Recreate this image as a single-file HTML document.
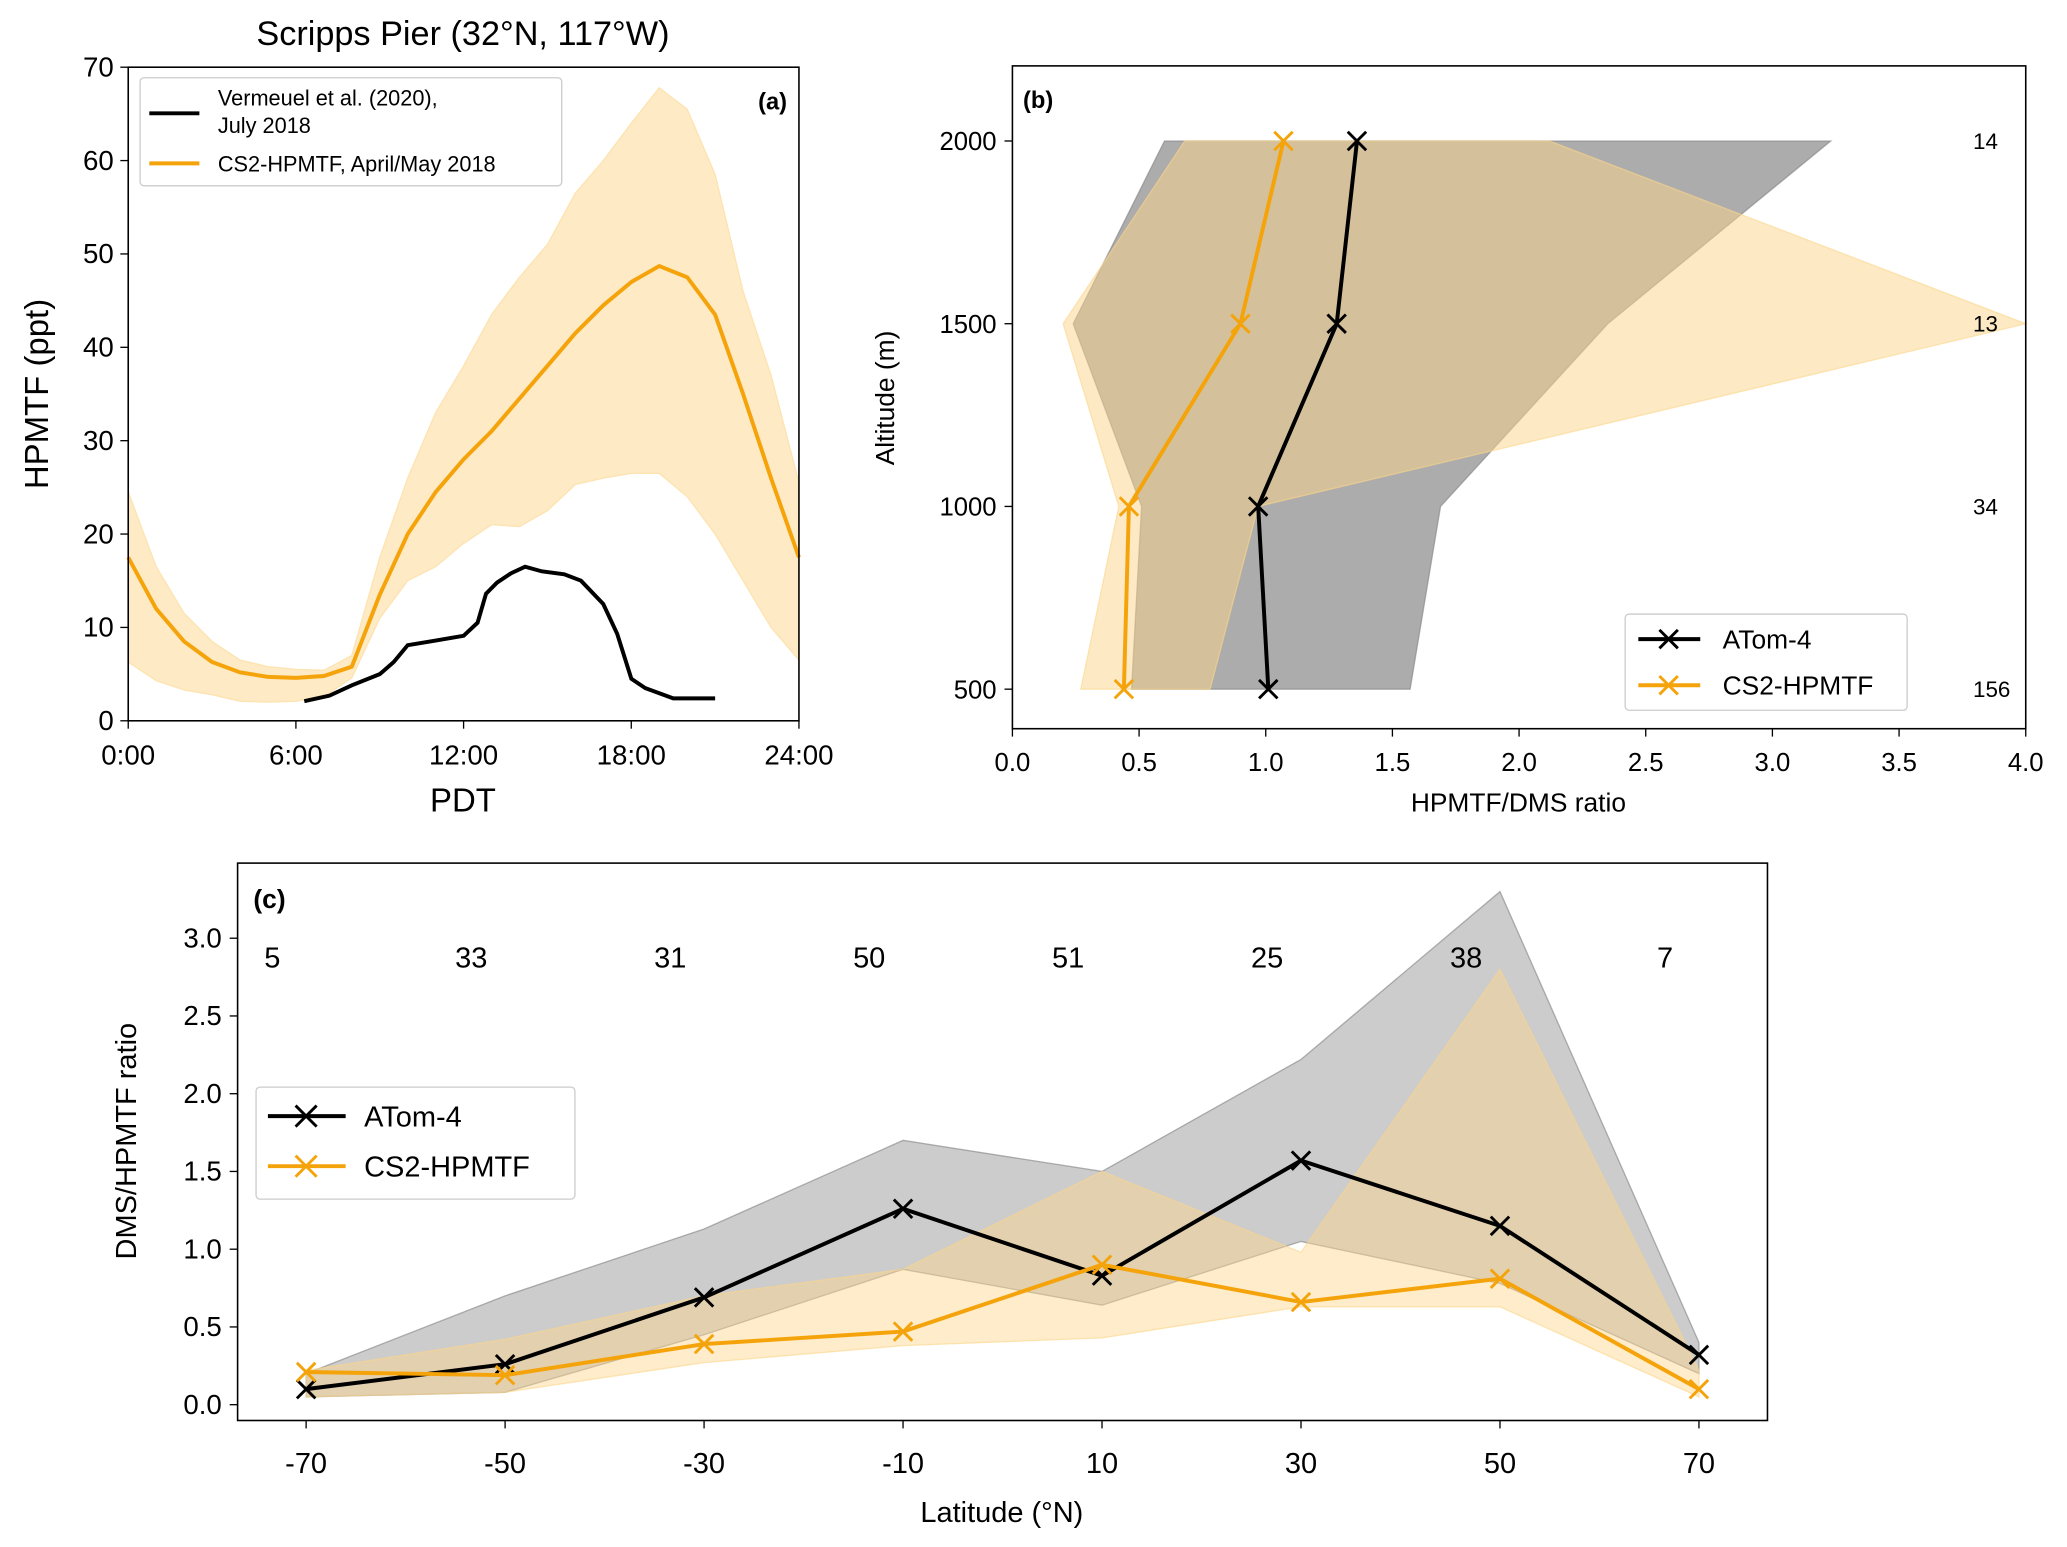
<!DOCTYPE html>
<html><head><meta charset="utf-8"><style>
html,body{margin:0;padding:0;background:#fff}
svg{display:block;font-family:"Liberation Sans","DejaVu Sans",sans-serif}
</style></head><body>
<svg id="fig" width="2067" height="1547" viewBox="0 0 1568 1174" xmlns="http://www.w3.org/2000/svg">
<rect width="1568" height="1174" fill="#fff"/>
<g id="pa"></g>
<g id="pb"></g>
<g id="pc"></g>
</svg>
<script>
// ---- Panel A data ----
const aHours=[0,1,2,3,4,5,6,7,8,9,10,11,12,13,14,15,16,17,18,19,20,21,22,23,24];
const aMean=[17.5,12,8.5,6.3,5.2,4.7,4.6,4.8,5.8,13.5,20,24.5,28,31,34.5,38,41.5,44.5,47,48.7,47.5,43.5,35,26,17.5];
const aUpper=[24.5,16.5,11.5,8.5,6.5,5.8,5.5,5.4,7,17.5,26,33,38,43.5,47.5,51,56.5,60,64,67.8,65.5,58.5,46,37,25.5];
const aLower=[6.3,4.3,3.3,2.8,2.1,2.0,2.1,2.6,4.6,11,15,16.5,19,21,20.8,22.5,25.3,26,26.5,26.5,24,20,15,10,6.5];
const vHours=[6.3,7.2,8,9,9.5,10,11,12,12.5,12.8,13.2,13.7,14.2,14.8,15.6,16.2,17,17.5,18,18.5,19.5,21];
const vVals=[2.1,2.7,3.8,5,6.3,8.1,8.6,9.1,10.5,13.6,14.8,15.8,16.5,16,15.7,15,12.5,9.3,4.5,3.5,2.4,2.4];
const aXTicks=["0:00","6:00","12:00","18:00","24:00"];
const aYTicks=[0,10,20,30,40,50,60,70];
// ---- Panel B data ----
const bAlt=[500,1000,1500,2000];
const bAtom=[1.01,0.97,1.28,1.36];
const bCs2=[0.44,0.46,0.90,1.07];
const bAtomLo=[0.47,0.51,0.24,0.60];
const bAtomHi=[1.57,1.69,2.35,3.23];
const bCs2Lo=[0.27,0.42,0.20,0.68];
const bCs2Hi=[0.78,0.97,4.0,2.12];
const bCounts=["156","34","13","14"];
const bXTicks=[0,0.5,1,1.5,2,2.5,3,3.5,4];
// ---- Panel C data ----
const cLat=[-70,-50,-30,-10,10,30,50,70];
const cAtom=[0.1,0.26,0.69,1.26,0.83,1.57,1.15,0.32];
const cCs2=[0.21,0.19,0.39,0.47,0.90,0.66,0.81,0.10];
const cAtomHi=[0.2,0.7,1.13,1.70,1.50,2.22,3.30,0.40];
const cAtomLo=[0.05,0.08,0.45,0.87,0.64,1.05,0.78,0.20];
const cCs2Hi=[0.22,0.42,0.70,0.87,1.5,0.98,2.80,0.22];
const cCs2Lo=[0.05,0.08,0.27,0.38,0.43,0.63,0.63,0.05];
const cCounts=["5","33","31","50","51","25","38","7"];
const cYTicks=[0,0.5,1,1.5,2,2.5,3];

const NS="http://www.w3.org/2000/svg";
function mk(parent,tag,attrs,text){const e=document.createElementNS(NS,tag);for(const k in attrs)e.setAttribute(k,attrs[k]);if(text!==undefined)e.textContent=text;parent.appendChild(e);return e;}
function pts(xs,ys,fx,fy){return xs.map((x,i)=>fx(x).toFixed(1)+","+fy(ys[i]).toFixed(1)).join(" ");}
function xmark(g,x,y,col,s){mk(g,"path",{d:`M${x-s},${y-s}L${x+s},${y+s}M${x-s},${y+s}L${x+s},${y-s}`,stroke:col,"stroke-width":2.2,fill:"none"});}
const OR="#f5a30a";
const LW=3;

// ===== Panel A =====
(function(){
const g=document.getElementById("pa");
const X=h=>97+(h/24)*(606-97), Y=v=>547-(v/70)*(547-51);
let t=mk(g,"text",{x:351,y:34,"font-size":26,"text-anchor":"middle"},"Scripps Pier (32°N, 117°W)");

const band=aHours.map((h,i)=>X(h).toFixed(1)+","+Y(aUpper[i]).toFixed(1)).concat(aHours.slice().reverse().map((h,j)=>{const i=aHours.length-1-j;return X(h).toFixed(1)+","+Y(aLower[i]).toFixed(1);})).join(" ");
let e=mk(g,"polygon",{points:band,fill:"#fde3b0","fill-opacity":0.75,stroke:"#fde3b0"});

e=mk(g,"polyline",{points:pts(aHours,aMean,X,Y),fill:"none",stroke:OR,"stroke-width":LW});

e=mk(g,"polyline",{points:pts(vHours,vVals,X,Y),fill:"none",stroke:"#000","stroke-width":LW});

mk(g,"rect",{x:97,y:51,width:509,height:496,fill:"none",stroke:"#000","stroke-width":1.2});
aXTicks.forEach((s,i)=>{const x=X(i*6);mk(g,"line",{x1:x,y1:547,x2:x,y2:553,stroke:"#000"});
 const tt=mk(g,"text",{x:x,y:580,"font-size":21,"text-anchor":"middle"},s);});
aYTicks.forEach(v=>{const y=Y(v);mk(g,"line",{x1:91,y1:y,x2:97,y2:y,stroke:"#000"});
 const tt=mk(g,"text",{x:86,y:y+7,"font-size":21,"text-anchor":"end"},v);});
t=mk(g,"text",{x:351,y:616,"font-size":25,"text-anchor":"middle"},"PDT");
t=mk(g,"text",{x:36,y:299,"font-size":25,"text-anchor":"middle",transform:"rotate(-90 36 299)"},"HPMTF (ppt)");
t=mk(g,"text",{x:597,y:83,"font-size":18,"font-weight":"bold","text-anchor":"end"},"(a)");
const lg=mk(g,"g",{});
mk(lg,"rect",{x:106,y:59,width:320,height:82,rx:3,fill:"#fff","fill-opacity":0.85,stroke:"#ccc"});
mk(lg,"line",{x1:113,y1:86,x2:151,y2:86,stroke:"#000","stroke-width":LW});
mk(lg,"line",{x1:113,y1:124,x2:151,y2:124,stroke:OR,"stroke-width":LW});
mk(lg,"text",{x:165,y:80,"font-size":16.5},"Vermeuel et al. (2020),");
mk(lg,"text",{x:165,y:101,"font-size":16.5},"July 2018");
mk(lg,"text",{x:165,y:130,"font-size":16.5},"CS2-HPMTF, April/May 2018");
})();

// ===== Panel B =====
(function(){
const g=document.getElementById("pb");
const X=v=>768+(v/4)*(1537-768), Y=a=>523-((a-500)/1500)*(523-107);
function band(lo,hi,fill,op,name){const p=bAlt.map((a,i)=>X(lo[i]).toFixed(1)+","+Y(a).toFixed(1)).concat(bAlt.slice().reverse().map((a,j)=>{const i=bAlt.length-1-j;return X(hi[i]).toFixed(1)+","+Y(a).toFixed(1);})).join(" ");
 const e=mk(g,"polygon",{points:p,fill:fill,"fill-opacity":op,stroke:fill,"stroke-opacity":0.6});}
band(bAtomLo,bAtomHi,"#808080",0.65,"atom-band");
band(bCs2Lo,bCs2Hi,"#fcd58a",0.5,"cs2-band");
let e=mk(g,"polyline",{points:pts(bAtom,bAlt,X,Y),fill:"none",stroke:"#000","stroke-width":LW});
bAtom.forEach((v,i)=>xmark(g,X(v),Y(bAlt[i]),"#000",7));
e=mk(g,"polyline",{points:pts(bCs2,bAlt,X,Y),fill:"none",stroke:OR,"stroke-width":LW});
bCs2.forEach((v,i)=>xmark(g,X(v),Y(bAlt[i]),OR,7));
mk(g,"rect",{x:768,y:50,width:769,height:503,fill:"none",stroke:"#000","stroke-width":1.2});
bXTicks.forEach(v=>{const x=X(v);mk(g,"line",{x1:x,y1:553,x2:x,y2:559,stroke:"#000"});
 const t=mk(g,"text",{x:x,y:585,"font-size":19.5,"text-anchor":"middle"},v.toFixed(1));});
bAlt.forEach((a,i)=>{const y=Y(a);mk(g,"line",{x1:762,y1:y,x2:768,y2:y,stroke:"#000"});
 let t=mk(g,"text",{x:756,y:y+7,"font-size":19.5,"text-anchor":"end"},a);
 t=mk(g,"text",{x:1497,y:y+6,"font-size":17},bCounts[i]);});
let t=mk(g,"text",{x:1152,y:616,"font-size":20,"text-anchor":"middle"},"HPMTF/DMS ratio");
t=mk(g,"text",{x:678,y:302,"font-size":20,"text-anchor":"middle",transform:"rotate(-90 678 302)"},"Altitude (m)");
t=mk(g,"text",{x:776,y:82,"font-size":18,"font-weight":"bold"},"(b)");
const lg=mk(g,"g",{});
mk(lg,"rect",{x:1233,y:466,width:214,height:73,rx:3,fill:"#fff","fill-opacity":0.85,stroke:"#ccc"});
mk(lg,"line",{x1:1243,y1:485,x2:1290,y2:485,stroke:"#000","stroke-width":LW});xmark(lg,1266,485,"#000",7);
mk(lg,"line",{x1:1243,y1:520,x2:1290,y2:520,stroke:OR,"stroke-width":LW});xmark(lg,1266,520,OR,7);
mk(lg,"text",{x:1307,y:492,"font-size":20},"ATom-4");
mk(lg,"text",{x:1307,y:527,"font-size":20},"CS2-HPMTF");
})();

// ===== Panel C =====
(function(){
const g=document.getElementById("pc");
const X=l=>232+((l+70)/140)*(1289-232), Y=v=>1066-(v/3)*(1066-712);
function band(lo,hi,fill,op,name){const p=cLat.map((a,i)=>X(a).toFixed(1)+","+Y(hi[i]).toFixed(1)).concat(cLat.slice().reverse().map((a,j)=>{const i=cLat.length-1-j;return X(a).toFixed(1)+","+Y(lo[i]).toFixed(1);})).join(" ");
 const e=mk(g,"polygon",{points:p,fill:fill,"fill-opacity":op,stroke:fill,"stroke-opacity":0.6});}
band(cAtomLo,cAtomHi,"#808080",0.4,"atom-band");
band(cCs2Lo,cCs2Hi,"#fcd58a",0.45,"cs2-band");
let e=mk(g,"polyline",{points:pts(cLat,cAtom,X,Y),fill:"none",stroke:"#000","stroke-width":LW});
cAtom.forEach((v,i)=>xmark(g,X(cLat[i]),Y(v),"#000",7));
e=mk(g,"polyline",{points:pts(cLat,cCs2,X,Y),fill:"none",stroke:OR,"stroke-width":LW});
cCs2.forEach((v,i)=>xmark(g,X(cLat[i]),Y(v),OR,7));
mk(g,"rect",{x:180,y:655,width:1161,height:423,fill:"none",stroke:"#000","stroke-width":1.2});
cLat.forEach((l,i)=>{const x=X(l);mk(g,"line",{x1:x,y1:1078,x2:x,y2:1084,stroke:"#000"});
 let t=mk(g,"text",{x:x,y:1118,"font-size":22,"text-anchor":"middle"},l);
 t=mk(g,"text",{x:X(l-3.8)+3,y:Y(2.88)+8,"font-size":22,"text-anchor":"middle"},cCounts[i]);});
cYTicks.forEach(v=>{const y=Y(v);mk(g,"line",{x1:174,y1:y,x2:180,y2:y,stroke:"#000"});
 const t=mk(g,"text",{x:168,y:y+7,"font-size":21,"text-anchor":"end"},v.toFixed(1));});
let t=mk(g,"text",{x:760,y:1155,"font-size":22,"text-anchor":"middle"},"Latitude (°N)");
t=mk(g,"text",{x:103,y:866,"font-size":22,"text-anchor":"middle",transform:"rotate(-90 103 866)"},"DMS/HPMTF ratio");
t=mk(g,"text",{x:192,y:689,"font-size":20,"font-weight":"bold"},"(c)");
const lg=mk(g,"g",{});
mk(lg,"rect",{x:194,y:825,width:242,height:85,rx:3,fill:"#fff","fill-opacity":0.85,stroke:"#ccc"});
mk(lg,"line",{x1:203,y1:847,x2:262,y2:847,stroke:"#000","stroke-width":LW});xmark(lg,232,847,"#000",8);
mk(lg,"line",{x1:203,y1:885,x2:262,y2:885,stroke:OR,"stroke-width":LW});xmark(lg,232,885,OR,8);
mk(lg,"text",{x:276,y:855,"font-size":22},"ATom-4");
mk(lg,"text",{x:276,y:893,"font-size":22},"CS2-HPMTF");
})();
</script>
</body></html>
